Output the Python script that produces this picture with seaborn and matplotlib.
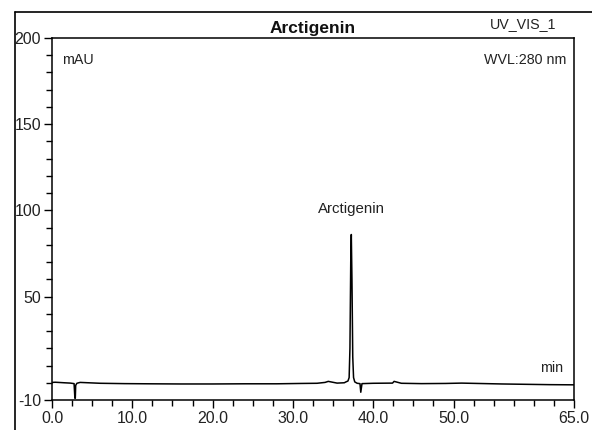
import matplotlib
matplotlib.use("Agg")
import matplotlib.pyplot as plt
from matplotlib.lines import Line2D
from matplotlib.ticker import MultipleLocator, FixedLocator
import seaborn as sns
import pandas as pd

# ---- data ----
time_min = [0.0, 0.4, 0.8, 1.5, 2.3, 2.75, 2.85, 2.9, 2.95, 3.1, 3.5, 4.5, 6.0,
            9.0, 12.0, 16.0, 20.0, 24.0, 28.0, 31.0, 33.0, 34.0, 34.4, 35.5,
            36.4, 36.6, 36.85, 37.0, 37.1, 37.2, 37.27, 37.35, 37.45, 37.55,
            37.7, 38.0, 38.35, 38.45, 38.6, 40.0, 42.4, 42.6, 43.5, 46.0,
            49.0, 51.0, 53.0, 56.0, 59.0, 62.0, 65.0]
signal_mau = [0.2, 0.3, 0.2, 0.0, -0.2, -0.5, -9.0, -9.0, -1.5, -0.3, 0.2, 0.0, -0.3,
              -0.5, -0.6, -0.7, -0.7, -0.6, -0.6, -0.4, -0.3, 0.2, 0.8, -0.2,
              0.0, 0.5, 1.0, 3.0, 20.0, 70.0, 86.0, 60.0, 15.0, 3.0,
              0.5, -0.3, -0.5, -5.5, -0.5, -0.3, -0.2, 0.8, -0.3, -0.5,
              -0.4, -0.2, -0.4, -0.7, -0.9, -1.1, -1.2]
peak_name = "Arctigenin"
peak_label_pos = (37.3, 101)
x_major = [0, 10, 20, 30, 40, 50, 65]
x_labels = ["0.0", "10.0", "20.0", "30.0", "40.0", "50.0", "65.0"]
y_major = [-10, 50, 100, 150, 200]
y_labels = ["-10", "50", "100", "150", "200"]

df = pd.DataFrame({"min": time_min, "mAU": signal_mau})

sns.set_style("ticks")
plt.rcParams["font.family"] = ["Liberation Sans", "DejaVu Sans"]
fs_tick = 11.5
fs_ann = 10.3

fig = plt.figure(figsize=(5.92, 4.30), dpi=100)
ax = fig.add_axes([52/592, 1 - 400/430, (574-52)/592, (400-38)/430])

sns.lineplot(data=df, x="min", y="mAU", ax=ax, color="black", linewidth=1.1,
             estimator=None, sort=False)

ax.set_xlim(0, 65)
ax.set_ylim(-10, 200)
ax.xaxis.set_major_locator(FixedLocator(x_major))
ax.set_xticklabels(x_labels)
ax.xaxis.set_minor_locator(MultipleLocator(2.5))
ax.yaxis.set_major_locator(FixedLocator(y_major))
ax.set_yticklabels(y_labels)
ax.yaxis.set_minor_locator(MultipleLocator(10))
ax.tick_params(which="major", length=6, width=1, color="black", labelsize=fs_tick,
               labelcolor="#222222", pad=2)
ax.tick_params(which="minor", length=4, width=1, color="black")
ax.set_xlabel("")
ax.set_ylabel("")
for s in ax.spines.values():
    s.set_color("black")
    s.set_linewidth(1.1)

ax.text(0.02, 0.958, "mAU", transform=ax.transAxes, fontsize=fs_ann,
        ha="left", va="top", color="#222222")
ax.text(0.986, 0.958, "WVL:280 nm", transform=ax.transAxes, fontsize=fs_ann,
        ha="right", va="top", color="#222222")
ax.text(0.979, 0.068, "min", transform=ax.transAxes, fontsize=fs_ann,
        ha="right", va="bottom", color="#222222")
ax.text(peak_label_pos[0], peak_label_pos[1], peak_name, fontsize=fs_ann + 0.5,
        ha="center", va="center", color="#222222")

ax.text(0.5, 1.006, "Arctigenin", transform=ax.transAxes, fontsize=12.5,
        fontweight="bold", ha="center", va="bottom", color="#111111")
ax.text(0.967, 1.018, "UV_VIS_1", transform=ax.transAxes, fontsize=fs_ann,
        ha="right", va="bottom", color="#222222")

# outer frame
fig.add_artist(Line2D([15/592, 15/592], [0, 1 - 12/430], transform=fig.transFigure,
                      color="black", linewidth=1.2))
fig.add_artist(Line2D([15/592, 1], [1 - 12/430, 1 - 12/430], transform=fig.transFigure,
                      color="black", linewidth=1.2))

fig.savefig("out.png", dpi=100)
